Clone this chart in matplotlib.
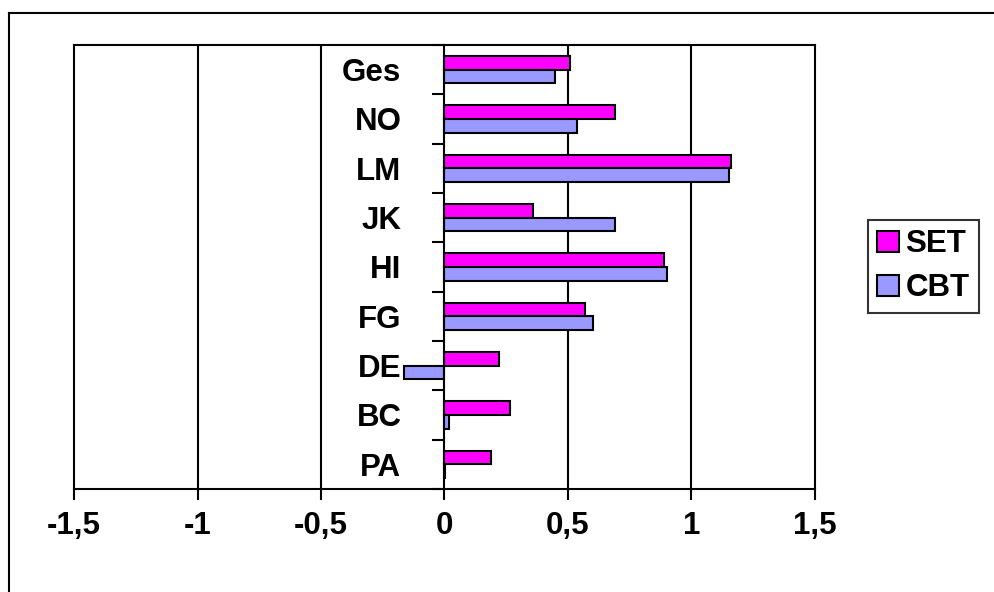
import matplotlib
matplotlib.use("Agg")
import matplotlib.pyplot as plt
from matplotlib.lines import Line2D
from matplotlib.ticker import FixedLocator, NullFormatter
import numpy as np

# --------------------------
# Data (bottom to top)
# --------------------------
categories = ["PA", "BC", "DE", "FG", "HI", "JK", "LM", "NO", "Ges"]
set_vals = [0.19, 0.265, 0.22, 0.57, 0.89, 0.36, 1.16, 0.69, 0.507]
cbt_vals = [0.003, 0.017, -0.162, 0.60, 0.90, 0.69, 1.152, 0.537, 0.449]
x_ticks = [-1.5, -1, -0.5, 0, 0.5, 1, 1.5]
x_labels = ["-1,5", "-1", "-0,5", "0", "0,5", "1", "1,5"]

plt.rcParams["font.family"] = ["Liberation Sans", "DejaVu Sans"]
plt.rcParams["font.weight"] = "bold"
FS = 22.5

W, H = 995, 592
fig = plt.figure(figsize=(W / 100, H / 100), dpi=100)
ax = fig.add_axes([74 / W, (H - 489) / H, (815 - 74) / W, (489 - 45) / H])

y = np.arange(len(categories))
h = 0.28
ax.barh(y + h / 2, set_vals, height=h, color="#FF00FF", edgecolor="black",
        linewidth=1.5, label="SET", zorder=3)
ax.barh(y - h / 2, cbt_vals, height=h, color="#9999FF", edgecolor="black",
        linewidth=1.5, label="CBT", zorder=3)

ax.set_xlim(-1.5, 1.5)
ax.set_ylim(-0.5, len(categories) - 0.5)

# vertical gridlines
for xv in x_ticks[1:-1]:
    if xv != 0:
        ax.axvline(xv, color="black", lw=1.5, zorder=1)
ax.axvline(-1.5, color="black", lw=1.5, zorder=1, clip_on=False)

for s in ["top", "right", "bottom"]:
    ax.spines[s].set_linewidth(1.5)
ax.spines["left"].set_position(("data", 0))
ax.spines["left"].set_linewidth(1.5)
ax.spines["left"].set_zorder(4)

# x axis
ax.set_xticks(x_ticks)
ax.set_xticklabels(x_labels, fontsize=FS, fontweight="bold")
ax.tick_params(axis="x", direction="out", length=8, width=1.5, pad=8)

# category axis: ticks at boundaries, labels centred
ax.yaxis.set_major_locator(FixedLocator(np.arange(-0.5, len(categories), 1.0)))
ax.yaxis.set_major_formatter(NullFormatter())
ax.yaxis.set_minor_locator(FixedLocator(y))
ax.set_yticklabels(categories, minor=True, fontsize=FS, fontweight="bold")
ax.tick_params(axis="y", which="major", direction="out", length=9, width=1.5)
ax.tick_params(axis="y", which="minor", length=0, pad=31)

leg = fig.legend(loc="upper left", bbox_to_anchor=(868 / W, 1 - 220 / H),
                 fontsize=FS, frameon=True, fancybox=False, handlelength=0.7,
                 handleheight=0.7, handletextpad=0.2, borderpad=0.3,
                 labelspacing=0.45, borderaxespad=0)
leg.get_frame().set_edgecolor("black")
leg.get_frame().set_linewidth(1.5)
for t in leg.get_texts():
    t.set_fontweight("bold")

# outer chart frame (left and top edges)
fig.add_artist(Line2D([9 / W, 9 / W], [0, 1 - 13 / H], color="black", lw=1.5))
fig.add_artist(Line2D([9 / W, 1], [1 - 13 / H, 1 - 13 / H], color="black", lw=1.5))

fig.savefig("out.png", dpi=100)
